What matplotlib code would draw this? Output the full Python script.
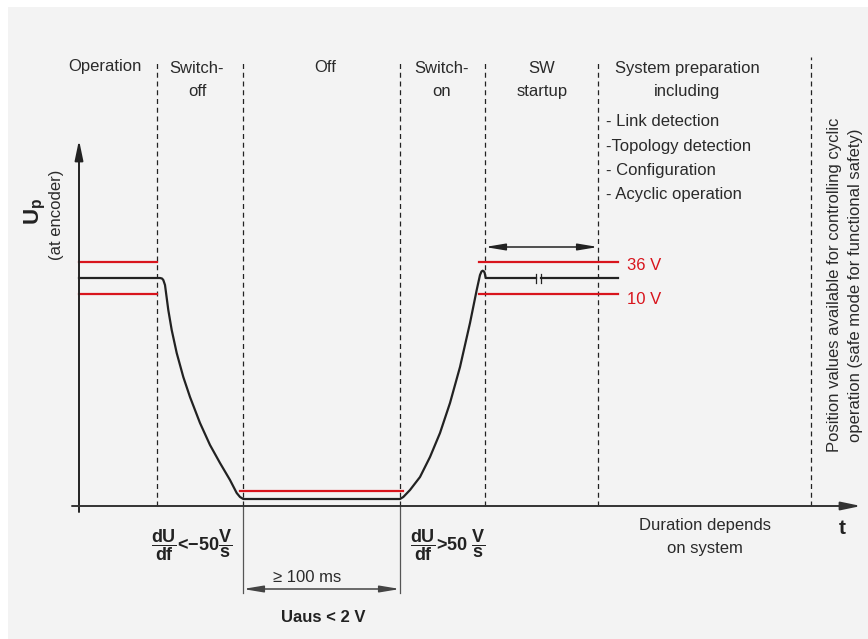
import matplotlib
matplotlib.use("Agg")
import matplotlib.pyplot as plt
from matplotlib.patches import Rectangle

plt.rcParams['font.family'] = ['Liberation Sans', 'DejaVu Sans']
plt.rcParams['mathtext.fontset'] = 'custom'
plt.rcParams['mathtext.rm'] = 'Liberation Sans'
plt.rcParams['mathtext.bf'] = 'Liberation Sans:bold'

# diagram units: t along the time axis, U up from the time axis (schematic)
phase_bounds = [78, 164, 321, 406, 519, 732]
phase_names = ["Switch-\noff", "Off", "Switch-\non", "SW\nstartup", "System preparation\nincluding"]
phase_label_t = [118, 246, 363, 463, 608]
phase_label_U = [426, 438, 426, 426, 426]
prep_items = ["- Link detection", "-Topology detection", "- Configuration", "- Acyclic operation"]
prep_items_U = [384, 359, 336, 312]

U_hi, U_nom, U_lo = 244, 228, 212
U_off_limit = 15

# supply voltage curve (schematic)
curve_t = [0, 78, 81, 83, 84.3, 86, 89.3, 92.7, 97.7, 104.3, 111, 121, 131, 141, 151, 157.7, 161, 164.3,
           321, 324.3, 331, 341, 351, 361, 371, 381, 391, 397.7, 401, 402.5, 403.7, 405, 405.7, 406.7, 457]
curve_U = [228, 228, 228, 227.5, 226, 221, 196, 176, 153, 129, 109, 83, 61, 43, 26, 13, 9, 7,
           7, 9, 16, 29, 49, 73, 103, 139, 183, 216, 231, 234.5, 235.3, 234.5, 233, 228, 228]
tail_t = [462, 539]
tail_U = [228, 228]

bg = '#f3f3f3'
red = '#d8141c'
ink = '#222222'
txt = '#2a2a2a'
fs = 12

fig = plt.figure(figsize=(8.68, 6.39), dpi=100)
fig.patch.set_facecolor('white')
ax = fig.add_axes([0, 0, 1, 1])
ax.set_xlim(-79, 789)
ax.set_ylim(-133, 506)
ax.axis('off')
ax.add_patch(Rectangle((-71, -133), 860, 632, facecolor=bg, edgecolor='none', zorder=0))

# phase separators
for i, tb in enumerate(phase_bounds):
    top = 449 if i == len(phase_bounds) - 1 else 445
    ax.plot([tb, tb], [0, top], color=ink, lw=0.9, ls=(0, (4, 3)), zorder=1)

# axes with arrows
ax.annotate('', xy=(0, 366), xytext=(0, -6),
            arrowprops=dict(arrowstyle='-|>,head_length=1.2,head_width=0.25', color=ink, lw=1.4, shrinkA=0, shrinkB=0))
ax.annotate('', xy=(782, 0), xytext=(-7, 0),
            arrowprops=dict(arrowstyle='-|>,head_length=1.2,head_width=0.25', color='#333333', lw=1.4, shrinkA=0, shrinkB=0))

# tolerance lines
ax.plot([0, phase_bounds[0]], [U_hi, U_hi], color=red, lw=1.6, zorder=2)
ax.plot([0, phase_bounds[0]], [U_lo, U_lo], color=red, lw=1.6, zorder=2)
ax.plot([400, 539], [U_hi, U_hi], color=red, lw=1.6, zorder=2)
ax.plot([400, 539], [U_lo, U_lo], color=red, lw=1.6, zorder=2)
ax.plot([161, 324], [U_off_limit, U_off_limit], color=red, lw=1.6, zorder=2)

# voltage curve
ax.plot(curve_t, curve_U, color=ink, lw=1.6, zorder=3, solid_joinstyle='round')
ax.plot(tail_t, tail_U, color=ink, lw=1.6, zorder=3)
for tk in [tail_t[0] - 5, tail_t[0]]:
    ax.plot([tk, tk], [223, 232], color=ink, lw=0.9, zorder=3)

# voltage labels
ax.text(548, U_hi - 3, "36 V", color=red, fontsize=fs, va='center', ha='left')
ax.text(548, U_lo - 5, "10 V", color=red, fontsize=fs, va='center', ha='left')

# SW startup arrow
ax.annotate('', xy=(phase_bounds[4], 259), xytext=(phase_bounds[3], 259),
            arrowprops=dict(arrowstyle='<|-|>,head_length=1.2,head_width=0.2', color=ink, lw=1.1, shrinkA=0, shrinkB=0))

# off duration
for tb in [phase_bounds[1], phase_bounds[2]]:
    ax.plot([tb, tb], [0, -87], color='#555555', lw=0.9, zorder=1)
ax.annotate('', xy=(phase_bounds[2], -83), xytext=(phase_bounds[1], -83),
            arrowprops=dict(arrowstyle='<|-|>,head_length=1.2,head_width=0.2', color='#444444', lw=1.1, shrinkA=0, shrinkB=0))
ax.text(228, -71, "\u2265 100 ms", fontsize=fs, ha='center', va='center', color=txt)
ax.text(244, -112, "Uaus < 2 V", fontsize=fs, ha='center', va='center', color=ink, fontweight='bold')

# phase titles
ax.text(26, 439, "Operation", fontsize=fs, ha='center', va='center', color=txt)
for name, tx, u in zip(phase_names, phase_label_t, phase_label_U):
    ax.text(tx, u, name, fontsize=fs, ha='center', va='center', color=txt, linespacing=1.6)
for item, u in zip(prep_items, prep_items_U):
    ax.text(527, u, item, fontsize=fs, ha='left', va='center', color=txt)

ax.text(766, 221, "Position values available for controlling cyclic\noperation (safe mode for functional safety)",
        fontsize=fs, rotation=90, ha='center', va='center', color=txt, linespacing=1.55)

# axis titles
ax.text(-44, 295, r"$\mathbf{U}_{\mathbf{p}}$", fontsize=16, rotation=90, ha='center', va='center', color=ink)
ax.text(-22, 291, "(at encoder)", fontsize=fs, rotation=90, ha='center', va='center', color=txt)
ax.text(763, -22, "t", fontsize=15, fontweight='bold', ha='center', va='center', color=ink)
ax.text(626, -31, "Duration depends\non system", fontsize=fs, ha='center', va='center', color=txt, linespacing=1.6)

# slope conditions
ax.text(113, -39, "$\\dfrac{\\mathbf{dU}}{\\mathbf{df}}$<\u221250$\\dfrac{\\mathbf{V}}{\\mathbf{s}}$",
        fontsize=13, fontweight='bold', ha='center', va='center', color=ink)
ax.text(369, -39, "$\\dfrac{\\mathbf{dU}}{\\mathbf{df}}$>50 $\\dfrac{\\mathbf{V}}{\\mathbf{s}}$",
        fontsize=13, fontweight='bold', ha='center', va='center', color=ink)

fig.savefig("out.png", dpi=100, facecolor=fig.get_facecolor())
